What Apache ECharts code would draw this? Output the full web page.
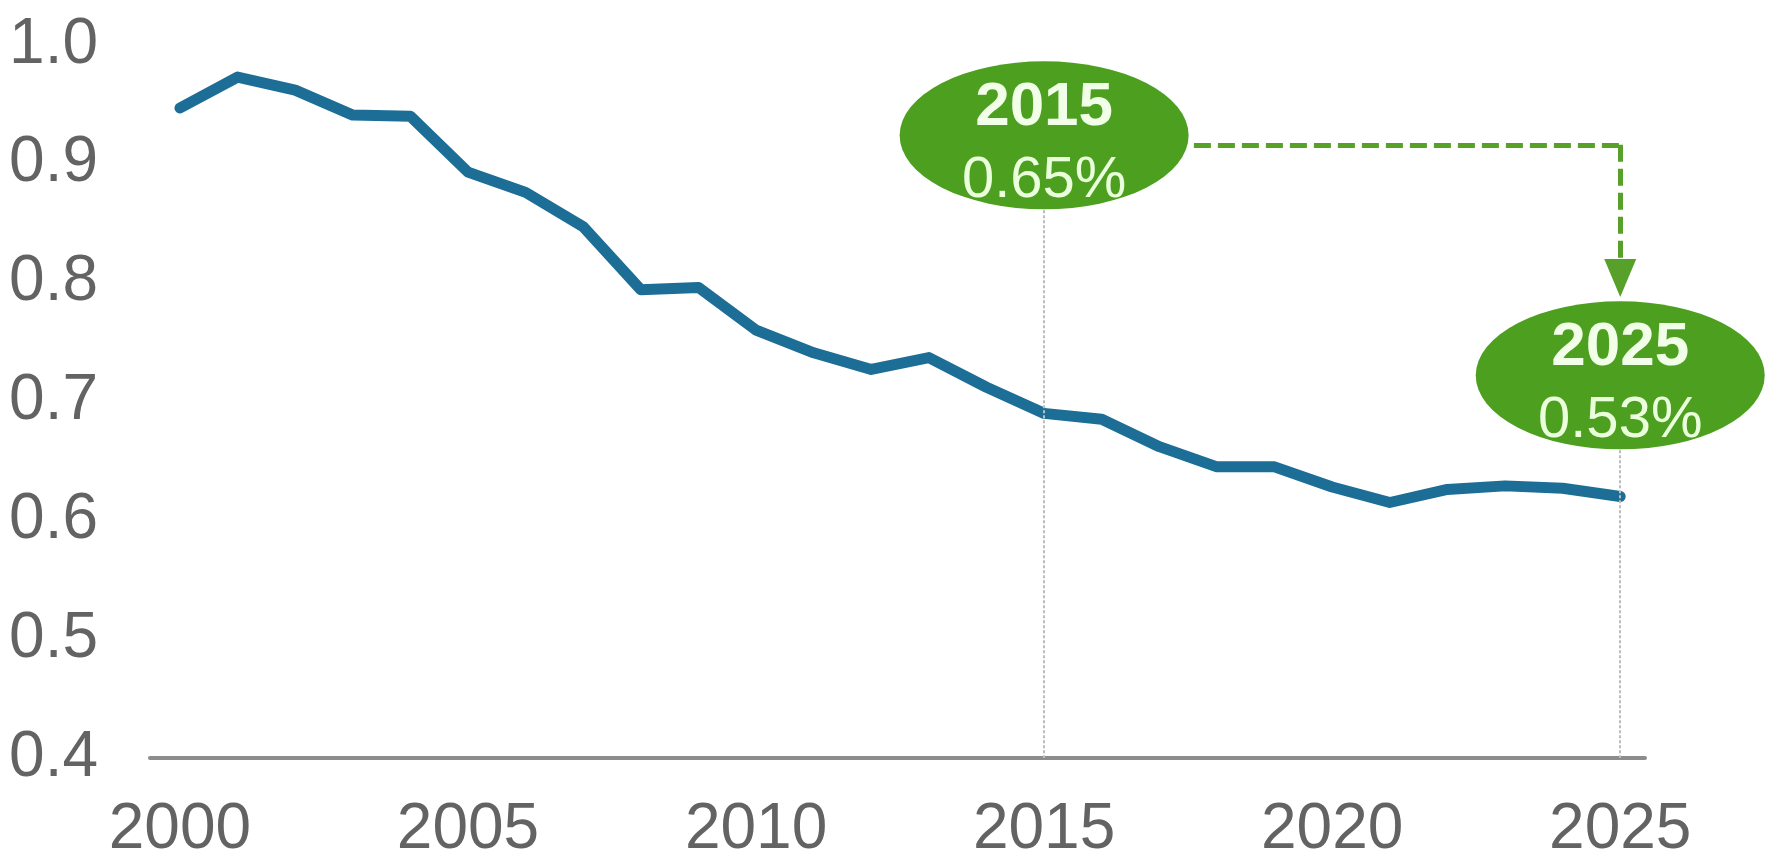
<!DOCTYPE html>
<html>
<head>
<meta charset="utf-8">
<script src="https://cdn.jsdelivr.net/npm/echarts@6/dist/echarts.min.js"></script>
<style>
  html, body { margin: 0; padding: 0; background: #ffffff; }
  #chart { width: 1783px; height: 862px; }
</style>
</head>
<body>
<div id="chart"></div>
<script>
// Yearly share, 2000–2025
const years = [2000, 2001, 2002, 2003, 2004, 2005, 2006, 2007, 2008, 2009,
               2010, 2011, 2012, 2013, 2014, 2015, 2016, 2017, 2018, 2019,
               2020, 2021, 2022, 2023, 2024, 2025];
const shareValues = [0.947, 0.973, 0.962, 0.941, 0.940, 0.893, 0.876, 0.847, 0.794, 0.796,
                     0.760, 0.741, 0.727, 0.737, 0.712, 0.690, 0.685, 0.662, 0.645, 0.645,
                     0.628, 0.615, 0.626, 0.629, 0.627, 0.620];

// Axis ticks
const xTickYears = [2000, 2005, 2010, 2015, 2020, 2025];
const yTicks = [0.4, 0.5, 0.6, 0.7, 0.8, 0.9, 1.0];

// Highlighted years and their callout texts
const calloutYears = [2015, 2025];
const calloutTexts = ['0.65%', '0.53%'];

const FONT = '"Liberation Sans", Arial, Helvetica, sans-serif';
const GREEN = '#4d9f1f';
const ELLIPSE = 'path://M0,74A144.5,74 0 1,1 289,74A144.5,74 0 1,1 0,74Z';

// Callout layout (bubble centres and connector, in axis units)
const bubbleY = [0.924, 0.722];
const guideTop = [0.861, 0.659];
const connectorY = 0.916;
const connectorStartX = 2017.6;
const arrowEndY = 0.804;

const chart = echarts.init(document.getElementById('chart'), null, { renderer: 'canvas' });

chart.setOption({
  animation: false,
  backgroundColor: '#ffffff',
  grid: { left: 150, right: 138, top: 45, bottom: 104 },
  xAxis: {
    type: 'value',
    min: 1999.48,
    max: 2025.43,
    axisLine: { show: true, onZero: false, lineStyle: { color: '#8c8c8c', width: 4 } },
    axisTick: { show: false },
    splitLine: { show: false },
    axisLabel: {
      customValues: xTickYears,
      formatter: v => String(v),
      color: '#636363',
      fontSize: 64,
      fontFamily: FONT,
      margin: 40
    }
  },
  yAxis: {
    type: 'value',
    min: 0.4,
    max: 1.0,
    axisLine: { show: false },
    axisTick: { show: false },
    splitLine: { show: false },
    axisLabel: {
      customValues: yTicks,
      formatter: v => v.toFixed(1),
      color: '#636363',
      fontSize: 64,
      fontFamily: FONT,
      margin: 52
    }
  },
  series: [
    {
      // thin guides from the callouts down to the axis
      type: 'line',
      data: [],
      z: 1,
      silent: true,
      markLine: {
        silent: true,
        symbol: ['none', 'none'],
        label: { show: false },
        lineStyle: { color: '#bdbdbd', width: 2, type: [3, 2] },
        data: calloutYears.map((yr, i) => [
          { coord: [yr, guideTop[i]] },
          { coord: [yr, 0.4] }
        ])
      }
    },
    {
      type: 'line',
      data: years.map((y, i) => [y, shareValues[i]]),
      z: 2,
      showSymbol: false,
      symbol: 'none',
      lineStyle: { color: '#1d6e96', width: 11, cap: 'round', join: 'round' }
    },
    {
      // callout bubbles and dashed connector
      type: 'line',
      data: [],
      z: 3,
      silent: true,
      markLine: {
        silent: true,
        symbol: ['none', 'none'],
        label: { show: false },
        lineStyle: { color: '#57a02a', width: 5, type: [17, 7] },
        data: [
          [
            { coord: [connectorStartX, connectorY] },
            { coord: [calloutYears[1], connectorY] }
          ],
          [
            { coord: [calloutYears[1], connectorY] },
            { coord: [calloutYears[1], arrowEndY], symbol: 'triangle', symbolSize: [32, 38] }
          ]
        ]
      },
      markPoint: {
        silent: true,
        symbol: ELLIPSE,
        symbolSize: [289, 148],
        symbolKeepAspect: false,
        itemStyle: { color: GREEN },
        label: {
          show: true,
          position: 'inside',
          offset: [0, 9],
          formatter: p => '{y|' + p.name + '}\n{v|' + p.value + '}',
          rich: {
            y: { fontSize: 62, fontWeight: 'bold', color: '#f2ffe8', fontFamily: FONT, lineHeight: 73 },
            v: { fontSize: 58, color: '#eaffdc', fontFamily: FONT, lineHeight: 73 }
          }
        },
        data: calloutYears.map((yr, i) => ({
          name: String(yr),
          value: calloutTexts[i],
          coord: [yr, bubbleY[i]]
        }))
      }
    }
  ]
});
</script>
</body>
</html>
